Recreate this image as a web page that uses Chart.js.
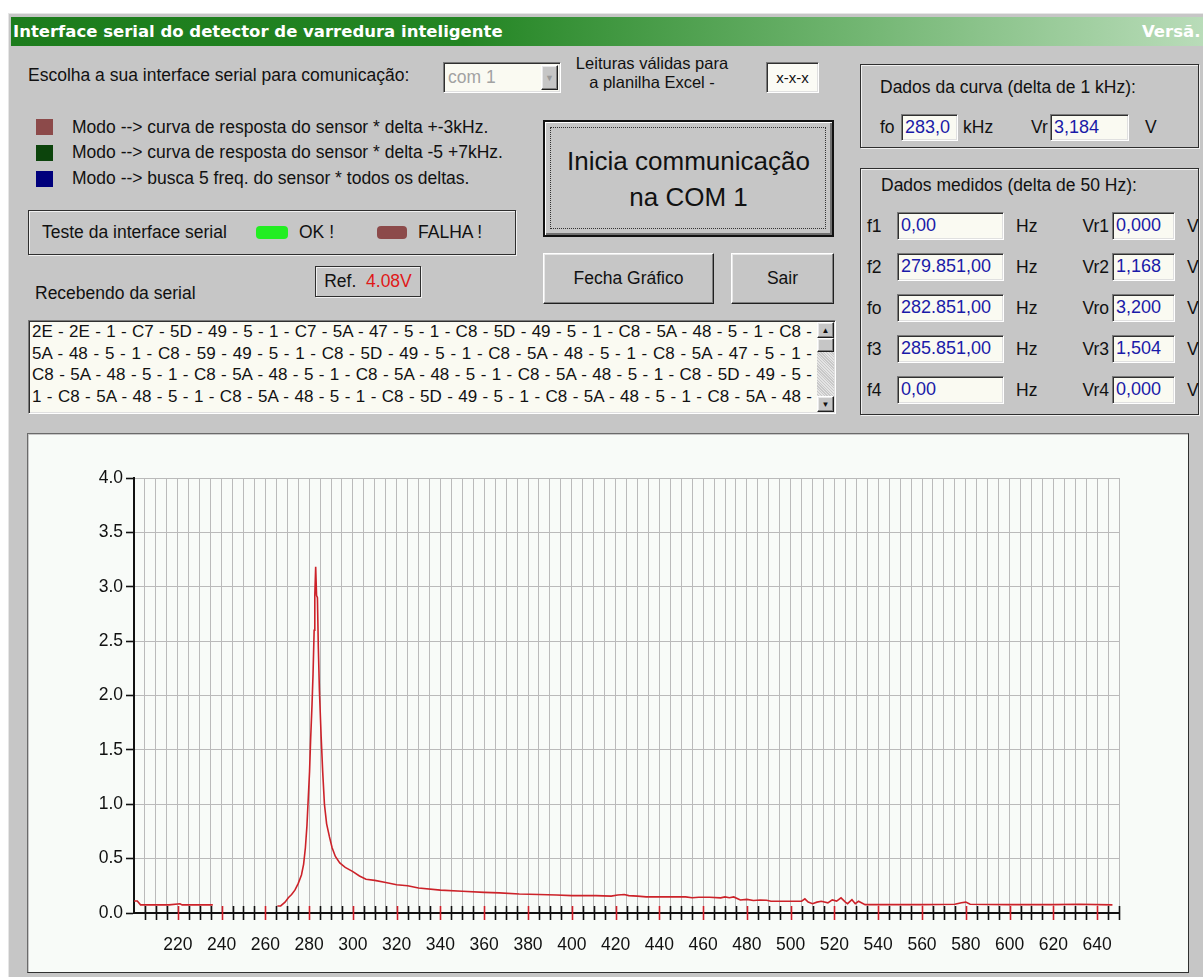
<!DOCTYPE html>
<html lang="pt">
<head>
<meta charset="utf-8">
<title>Interface serial do detector de varredura inteligente</title>
<script src="https://cdn.jsdelivr.net/npm/chart.js@4.4.1/dist/chart.umd.min.js"></script>
<style>
  html, body { margin: 0; padding: 0; background: #fff; overflow: hidden; }
  body { width: 1203px; height: 977px; position: relative;
         font-family: "Liberation Sans", Arial, sans-serif; font-size: 17.5px; color: #111; }
  .abs { position: absolute; white-space: nowrap; }
  #win { position: absolute; left: 8px; top: 13px; width: 1205px; height: 970px;
         background: #c6c6c6; border-left: 1px solid #e6e6e6; border-top: 1px solid #e6e6e6; }
  #title { position: absolute; left: 11px; top: 17px; width: 1192px; height: 29px; overflow: hidden;
           background: linear-gradient(to right, #1c7c1c 0%, #238523 38%, #6fb46f 70%, #b9dcb9 100%);
           color: #fff; font-family: "DejaVu Sans", sans-serif; font-weight: bold; font-size: 16.5px;
           line-height: 29px; }
  #title .l { position: absolute; left: 2px; }
  #title .r { position: absolute; left: 1131px; }
  .sunk { position: absolute; box-sizing: border-box; background: #fafaf2;
          border: 1px solid; border-color: #7a7a7a #ffffff #ffffff #7a7a7a;
          box-shadow: inset 1px 1px 0 #303030, inset -1px -1px 0 #e0e0e0; }
  .raised { position: absolute; box-sizing: border-box; background: #c6c6c6;
            border: 1px solid; border-color: #ffffff #202020 #202020 #ffffff;
            box-shadow: inset -1px -1px 0 #808080, inset 1px 1px 0 #e8e8e8;
            display: flex; align-items: center; justify-content: center; }
  .frame { position: absolute; box-sizing: border-box; border: 1px solid #2e2e2e;
           box-shadow: 1px 1px 0 #f0f0f0, inset 1px 1px 0 #f0f0f0; }
  .sq { position: absolute; width: 17px; height: 16px; }
  .val { color: #1a1aa8; padding-left: 3px; line-height: 24px; white-space: nowrap; overflow: hidden; font-size: 18px; }
  .lbl { position: absolute; white-space: nowrap; line-height: 20px; }
  #serial .ln { height: 21.6px; line-height: 21.6px; text-align: justify; text-align-last: justify;
                width: 780px; white-space: normal; font-size: 17px; }
  #plot { position: absolute; left: 27px; top: 433px; width: 1162px; height: 540px; box-sizing: border-box;
          background: #f8fbf8; border: 1px solid; border-color: #6a6a6a #303030 #303030 #6a6a6a;
          box-shadow: inset 1px 1px 0 #c8c8c8; }
  #plot canvas { position: absolute; left: 0; top: 0; }
</style>
</head>
<body>
<div id="win"></div>
<div id="title"><span class="l">Interface serial do detector de varredura inteligente</span><span class="r">Versã.</span></div>

<!-- serial port selection -->
<div class="lbl" style="left:28px; top:65px;">Escolha a sua interface serial para comunicação:</div>
<div class="sunk" style="left:443px; top:62px; width:118px; height:31px;">
  <span class="abs" style="left:4px; top:4px; color:#a2a2a2;">com 1</span>
  <div class="raised" style="left:auto; right:2px; top:2px; width:17px; height:25px; font-size:9px; color:#9a9a9a;">&#9660;</div>
</div>
<div class="lbl" style="left:572px; top:54px; width:160px; text-align:center; line-height:19px; font-size:16.5px;">Leituras válidas para<br>a planilha Excel -</div>
<div class="sunk" style="left:766px; top:62px; width:53px; height:31px; background:#fbfbf5; font-size:15px; display:flex; align-items:center; justify-content:center;">x-x-x</div>

<!-- mode legend -->
<div class="sq" style="left:36px; top:119px; background:#8c4a4a;"></div>
<div class="lbl" style="left:72px; top:117px;">Modo --&gt; curva de resposta do sensor * delta +-3kHz.</div>
<div class="sq" style="left:36px; top:145px; background:#0c440c;"></div>
<div class="lbl" style="left:72px; top:142px;">Modo --&gt; curva de resposta do sensor * delta -5 +7kHz.</div>
<div class="sq" style="left:36px; top:171px; background:#00007c;"></div>
<div class="lbl" style="left:72px; top:168px;">Modo --&gt; busca 5 freq. do sensor * todos os deltas.</div>

<!-- interface test -->
<div class="frame" style="left:28px; top:210px; width:488px; height:45px;"></div>
<div class="lbl" style="left:42px; top:222px;">Teste da interface serial</div>
<div class="abs" style="left:256px; top:226px; width:32px; height:13px; border-radius:4px; background:#22ee22;"></div>
<div class="lbl" style="left:299px; top:222px;">OK !</div>
<div class="abs" style="left:377px; top:226px; width:30px; height:13px; border-radius:4px; background:#8c4a4a;"></div>
<div class="lbl" style="left:418px; top:222px;">FALHA !</div>

<!-- main buttons -->
<div class="raised" style="left:543px; top:120px; width:291px; height:117px; border:2px solid #111; box-shadow: inset 1px 1px 0 #fff, inset -2px -2px 0 #707070;">
  <div style="position:absolute; left:5px; top:5px; right:6px; bottom:6px; border:1px dotted #333;"></div>
  <div style="font-size:26px; text-align:center; line-height:36px;">Inicia communicação<br>na COM 1</div>
</div>
<div class="raised" style="left:543px; top:253px; width:171px; height:51px;"><span>Fecha Gráfico</span></div>
<div class="raised" style="left:731px; top:253px; width:103px; height:51px;"><span>Sair</span></div>

<div class="lbl" style="left:35px; top:283px;">Recebendo da serial</div>
<div class="frame" style="left:315px; top:266px; width:106px; height:31px; display:flex; align-items:center; justify-content:center;">
  <span>Ref.&nbsp; <span style="color:#e01818;">4.08V</span></span>
</div>

<!-- received bytes -->
<div class="sunk" id="serial" style="left:28px; top:320px; width:808px; height:94px; padding:0 0 0 3px; overflow:hidden;">
  <div class="ln">2E - 2E - 1 - C7 - 5D - 49 - 5 - 1 - C7 - 5A - 47 - 5 - 1 - C8 - 5D - 49 - 5 - 1 - C8 - 5A - 48 - 5 - 1 - C8 -</div>
  <div class="ln">5A - 48 - 5 - 1 - C8 - 59 - 49 - 5 - 1 - C8 - 5D - 49 - 5 - 1 - C8 - 5A - 48 - 5 - 1 - C8 - 5A - 47 - 5 - 1 -</div>
  <div class="ln">C8 - 5A - 48 - 5 - 1 - C8 - 5A - 48 - 5 - 1 - C8 - 5A - 48 - 5 - 1 - C8 - 5A - 48 - 5 - 1 - C8 - 5D - 49 - 5 -</div>
  <div class="ln">1 - C8 - 5A - 48 - 5 - 1 - C8 - 5A - 48 - 5 - 1 - C8 - 5D - 49 - 5 - 1 - C8 - 5A - 48 - 5 - 1 - C8 - 5A - 48 -</div>
  <div class="raised" style="left:auto; right:1px; top:1px; width:17px; height:16px; font-size:8px;">&#9650;</div>
  <div style="position:absolute; right:1px; top:17px; width:17px; height:58px; background:repeating-linear-gradient(45deg,#e4e4e4 0 1px,#c8c8c8 1px 2px);"></div>
  <div class="raised" style="left:auto; right:1px; top:17px; width:17px; height:14px;"></div>
  <div class="raised" style="left:auto; right:1px; bottom:1px; top:auto; width:17px; height:16px; font-size:8px;">&#9660;</div>
</div>

<!-- curve data -->
<div class="frame" style="left:860px; top:64px; width:339px; height:84px;"></div>
<div class="lbl" style="left:880px; top:77px;">Dados da curva (delta de 1 kHz):</div>
<div class="lbl" style="left:880px; top:117px;">fo</div>
<div class="sunk val" style="left:901px; top:114px; width:57px; height:27px;">283,0</div>
<div class="lbl" style="left:963px; top:117px;">kHz</div>
<div class="lbl" style="left:1031px; top:117px;">Vr</div>
<div class="sunk val" style="left:1050px; top:114px; width:79px; height:27px;">3,184</div>
<div class="lbl" style="left:1145px; top:117px;">V</div>

<!-- measured data -->
<div class="frame" style="left:860px; top:168px; width:339px; height:247px;"></div>
<div class="lbl" style="left:881px; top:175px;">Dados medidos (delta de 50 Hz):</div>
<div id="rows"></div>

<div id="plot"><canvas id="chart" width="1160" height="538"></canvas></div>

<script>
// Sweep readings: frequency (kHz) and detector output (V). null breaks the trace.
const freqKHz = [
  200, 201.5, 203, 210, 216, 221, 222, 230, 236, 236.5,
  265.5, 267, 269, 270.5, 272, 273.5, 275, 276.5, 277.5, 278.3,
  279, 279.6, 280.2, 280.7, 281.3, 281.8, 282.3, 282.6, 283, 283.4,
  283.8, 284.2, 284.7, 285.5, 286.2, 287, 288, 289.3, 290.5, 292,
  294, 296.5, 300, 303, 306, 310, 315, 320, 325, 330,
  340, 350, 360, 367, 376, 385, 393, 400, 411, 418,
  421, 424, 426, 430, 434, 452, 455, 458, 463, 468,
  470, 472, 474, 477, 480, 483, 486, 489, 491, 505,
  506.5, 508, 510, 512, 514, 517, 519, 521, 523, 525,
  526, 528, 529.5, 531, 534, 560, 575, 578, 580, 582,
  600, 620, 632, 647
];
const voltsV = [
  0.11, 0.11, 0.075, 0.075, 0.075, 0.085, 0.075, 0.075, 0.075, null,
  0.065, 0.065, 0.1, 0.14, 0.17, 0.21, 0.27, 0.35, 0.45, 0.6,
  0.8, 1.05, 1.3, 1.6, 1.9, 2.2, 2.6, 2.92, 3.184, 2.92,
  2.9, 2.45, 2.05, 1.62, 1.3, 1.0, 0.82, 0.7, 0.6, 0.52,
  0.46, 0.42, 0.38, 0.34, 0.31, 0.3, 0.28, 0.26, 0.25, 0.23,
  0.21, 0.2, 0.19, 0.185, 0.175, 0.17, 0.165, 0.16, 0.16, 0.155,
  0.165, 0.17, 0.16, 0.155, 0.148, 0.148, 0.14, 0.145, 0.145, 0.139,
  0.148, 0.14, 0.148, 0.12, 0.125, 0.115, 0.12, 0.117, 0.108, 0.108,
  0.13, 0.1, 0.086, 0.1, 0.108, 0.093, 0.12, 0.11, 0.139, 0.1,
  0.086, 0.123, 0.086, 0.108, 0.077, 0.077, 0.08, 0.095, 0.1, 0.08,
  0.077, 0.077, 0.08, 0.075
];

// Measured points table (delta 50 Hz)
const rowFreqLabels = ['f1', 'f2', 'fo', 'f3', 'f4'];
const rowFreqValues = ['0,00', '279.851,00', '282.851,00', '285.851,00', '0,00'];
const rowVoltLabels = ['Vr1', 'Vr2', 'Vro', 'Vr3', 'Vr4'];
const rowVoltValues = ['0,000', '1,168', '3,200', '1,504', '0,000'];

const X_MIN = 200, X_MAX = 650, X_STEP = 5, X_LABEL_EVERY = 20;
const Y_MIN = 0, Y_MAX = 4, Y_STEP = 0.5;

const TRACE_RED = '#cc2229';
const TICK_RED = '#d0202a';
const GRID_GREY = '#bababa';
const AXIS_FONT = { family: '"Liberation Sans", Arial, sans-serif', size: 17.5 };

// ── Measured rows ─────────────────────────────────────────
const rows = document.getElementById('rows');
rows.innerHTML = rowFreqLabels.map((lab, i) => {
  const top = 212 + i * 41;
  return `
    <div class="lbl" style="left:867px; top:${top + 4}px;">${lab}</div>
    <div class="sunk val" style="left:897px; top:${top}px; width:107px; height:28px;">${rowFreqValues[i]}</div>
    <div class="lbl" style="left:1016px; top:${top + 4}px;">Hz</div>
    <div class="lbl" style="left:1064px; top:${top + 4}px; width:45px; text-align:right;">${rowVoltLabels[i]}</div>
    <div class="sunk val" style="left:1112px; top:${top}px; width:63px; height:28px;">${rowVoltValues[i]}</div>
    <div class="lbl" style="left:1187px; top:${top + 4}px;">V</div>`;
}).join('');

// ── Chart ─────────────────────────────────────────────────

// Tick marks crossing the frequency axis, red on the labelled ones
const crossTicks = {
  id: 'crossTicks',
  afterDatasetsDraw(chart) {
    const xs = chart.scales.x, ys = chart.scales.y;
    const y0 = ys.getPixelForValue(0);
    const ctx = chart.ctx;
    ctx.save();
    ctx.lineWidth = 1.6;
    xs.ticks.forEach(t => {
      if (t.value <= X_MIN) return;
      const px = Math.round(xs.getPixelForValue(t.value)) + 0.5;
      ctx.strokeStyle = t.value % X_LABEL_EVERY === 0 ? TICK_RED : '#111';
      ctx.beginPath();
      ctx.moveTo(px, y0 - 7);
      ctx.lineTo(px, y0 + 7);
      ctx.stroke();
    });
    ctx.restore();
  },
};

new Chart(document.getElementById('chart'), {
  type: 'line',
  data: {
    datasets: [{
      data: freqKHz.map((f, i) => ({ x: f, y: voltsV[i] })),
      borderColor: TRACE_RED,
      borderWidth: 1.6,
      pointRadius: 0,
      tension: 0,
      spanGaps: false,
    }],
  },
  options: {
    responsive: false,
    animation: false,
    events: [],
    layout: { padding: { left: 0, top: 44, right: 69, bottom: 0 } },
    plugins: { legend: { display: false }, tooltip: { enabled: false } },
    scales: {
      x: {
        type: 'linear',
        min: X_MIN, max: X_MAX,
        afterFit: s => { s.height = 59; },
        grid: { color: GRID_GREY, lineWidth: 1, drawTicks: false },
        border: { color: '#111', width: 2 },
        ticks: {
          stepSize: X_STEP, autoSkip: false, maxRotation: 0, padding: 22,
          color: '#111', font: AXIS_FONT,
          callback: v => (v % X_LABEL_EVERY === 0 && v > X_MIN) ? String(v) : '',
        },
      },
      y: {
        type: 'linear',
        min: Y_MIN, max: Y_MAX,
        afterFit: s => { s.width = 106; },
        grid: { color: GRID_GREY, lineWidth: 1, tickColor: '#111', tickLength: 8, tickWidth: 1.6 },
        border: { color: '#111', width: 2 },
        ticks: { stepSize: Y_STEP, padding: 3, color: '#111', font: AXIS_FONT, callback: v => v.toFixed(1) },
      },
    },
  },
  plugins: [crossTicks],
});
</script>
</body>
</html>
